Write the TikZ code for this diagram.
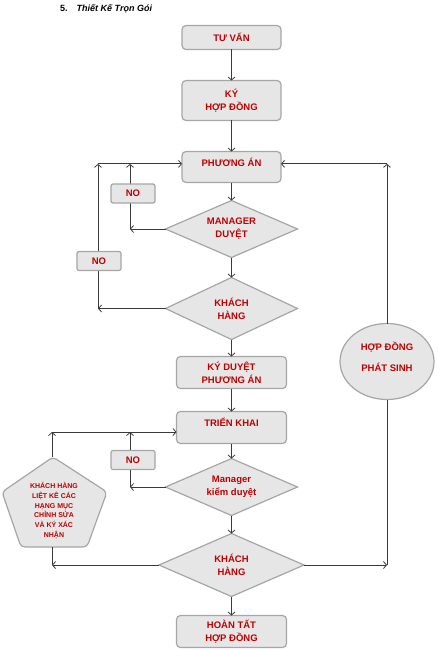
\documentclass[tikz,border=0pt]{standalone}
\usepackage{fontspec}
\setmainfont{Liberation Sans}
\usetikzlibrary{shapes.geometric, arrows.meta, positioning}
\definecolor{boxfill}{HTML}{E6E6E6}
\definecolor{boxline}{HTML}{A6A6A6}
\definecolor{boxtext}{HTML}{C00000}
\definecolor{linkline}{HTML}{3A3A3A}

\begin{document}
\begin{tikzpicture}
        [
        x=1pt, y=-1pt,
        box/.style={draw=boxline, line width=1.2pt, fill=boxfill, rectangle, rounded corners=4pt, align=center,
            font=\fontsize{9.5}{13}\selectfont\bfseries, text=boxtext, inner sep=0pt, outer sep=0pt},
        decision/.style={box, diamond, aspect=2.2, sharp corners},
        nobox/.style={box, minimum width=44pt, minimum height=19pt, rounded corners=2pt},
        arrow/.style={-{Straight Barb[length=3pt,width=7pt]}, draw=linkline, line width=0.8pt},
        link/.style={draw=linkline, line width=0.8pt}
        ]

        \useasboundingbox (0,0) rectangle (437,650);

        \node (title) [anchor=west, inner sep=0pt, font=\fontsize{9}{11}\selectfont\bfseries] at (60,8.3) {5.\hspace{9pt}\textit{Thiết Kế Trọn Gói}};

        % main column
        \node (tuvan) [box, minimum width=99pt, minimum height=24pt] at (231.5,37.5) {TƯ VẤN};
        \node (kyhd) [box, minimum width=99pt, minimum height=40pt, below=31pt of tuvan] {KÝ\\HỢP ĐỒNG};
        \node (phuongan) [box, minimum width=99pt, text height=15pt, text depth=16pt, below=31pt of kyhd] {PHƯƠNG ÁN};
        \node (mgr) [decision, minimum width=132pt, minimum height=57pt, below=18pt of phuongan] {MANAGER\\DUYỆT};
        \node (kh1) [decision, minimum width=132pt, minimum height=62pt, below=20pt of mgr] {KHÁCH\\HÀNG};
        \node (kyduyet) [box, minimum width=110pt, minimum height=32pt, below=17pt of kh1] {KÝ DUYỆT\\PHƯƠNG ÁN};
        \node (trienkhai) [box, minimum width=110pt, text height=15pt, text depth=17pt, below=23pt of kyduyet] {TRIỂN KHAI};
        \node (mgrkd) [decision, minimum width=132pt, minimum height=57pt, below=15pt of trienkhai] {Manager\\kiểm duyệt};
        \node (kh2) [decision, minimum width=145pt, minimum height=63pt, below=18pt of mgrkd] {KHÁCH\\HÀNG};
        \node (hoantat) [box, minimum width=110pt, minimum height=32pt, below=19pt of kh2] {HOÀN TẤT\\HỢP ĐỒNG};

        % side shapes
        \node (phatsinh) [box, ellipse, sharp corners, minimum width=94pt, minimum height=76pt, text depth=9pt] at (387,361.5) {HỢP ĐỒNG\\[7.7pt]PHÁT SINH};

        \draw [box] (53,457) -- (107,492) -- (87,547) -- (21,547) -- (2,492) -- cycle;
        \coordinate (pentN) at (52,457);
        \coordinate (pentS) at (52,547);
        \node (pent) [align=center, text=boxtext, font=\fontsize{7}{9.8}\selectfont\bfseries] at (54,510.5)
            {KHÁCH HÀNG\\LIỆT KÊ CÁC\\HẠNG MỤC\\CHỈNH SỬA\\VÀ KÝ XÁC\\NHẬN};

        % loop points
        \coordinate (mgrtop) at ([xshift=-52pt]phuongan.mid west);
        \coordinate (khtop) at ([xshift=-84pt]phuongan.mid west);
        \coordinate (rtop) at ([xshift=106pt]phuongan.mid east);
        \coordinate (tktop) at ([yshift=-5.5pt]trienkhai.base -| pentN);
        \coordinate (kdtop) at (tktop -| mgrtop);

        % Edges
        \draw [arrow] (tuvan) -- (kyhd);
        \draw [arrow] (kyhd) -- (phuongan);
        \draw [arrow] (phuongan) -- (mgr);
        \draw [arrow] (mgr) -- (kh1);
        \draw [arrow] (kh1) -- (kyduyet);
        \draw [arrow] (kyduyet) -- (trienkhai);
        \draw [arrow] (trienkhai) -- (mgrkd);
        \draw [arrow] (mgrkd) -- (kh2);
        \draw [arrow] (kh2) -- (hoantat);

        \draw [arrow] (mgr.west) -- (mgr.west -| mgrtop);
        \draw [arrow] (mgr.west -| mgrtop) -- (mgrtop);
        \draw [arrow] (kh1.west) -- (kh1.west -| khtop);
        \draw [arrow] (kh1.west -| khtop) -- (khtop);
        \draw [arrow] (khtop) -- (phuongan.mid west);

        \draw [arrow] (kh2.east) -- (kh2.east -| rtop);
        \draw [link] (kh2.east -| rtop) -- (phatsinh.south);
        \draw [arrow] (phatsinh.north) -- (rtop);
        \draw [arrow] (rtop) -- (phuongan.mid east);

        \draw [arrow] (mgrkd.west) -- (mgrkd.west -| kdtop);
        \draw [arrow] (mgrkd.west -| kdtop) -- (kdtop);
        \draw [arrow] (pentN) -- (tktop);
        \draw [arrow] (tktop) -- (tktop -| trienkhai.west);
        \draw [arrow] (kh2.west) -- (kh2.west -| pentS);
        \draw [link] (kh2.west -| pentS) -- (pentS);

        % NO labels
        \node (no1) [nobox] at (133,193.5) {NO};
        \node (no2) [nobox] at (99,261) {NO};
        \node (no3) [nobox] at (133,460) {NO};

    \end{tikzpicture}
\end{document}
